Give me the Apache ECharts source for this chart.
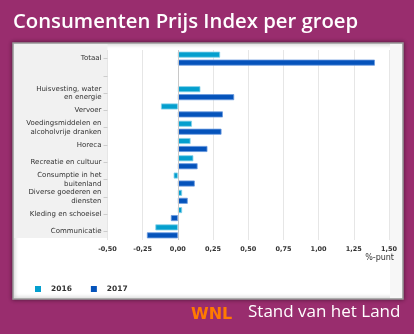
<!DOCTYPE html>
<html><head><meta charset="utf-8">
<script src="https://cdn.jsdelivr.net/npm/echarts@6/dist/echarts.min.js"></script>
<style>html,body{margin:0;padding:0;background:#992d6e}#c{width:414px;height:334px}</style>
</head><body><div id="c"></div>
<script>
var categories = ['Totaal', '', 'Huisvesting, water\nen energie', 'Vervoer', 'Voedingsmiddelen en\nalcoholvrije dranken', 'Horeca', 'Recreatie en cultuur', 'Consumptie in het\nbuitenland', 'Diverse goederen en\ndiensten', 'Kleding en schoeisel', 'Communicatie'];
var values2016 = [0.30, null, 0.16, -0.12, 0.10, 0.09, 0.11, -0.03, 0.03, 0.03, -0.16];
var values2017 = [1.40, null, 0.40, 0.32, 0.31, 0.21, 0.14, 0.12, 0.07, -0.05, -0.22];
var seriesNames = ['2016', '2017'];
var titleText = 'Consumenten Prijs Index per groep';
var axisUnit = '%-punt';

var chart = echarts.init(document.getElementById('c'), null, {renderer: 'canvas'});
chart.setOption({
  backgroundColor: '#992d6e',
  animation: false,
  graphic: [
    {type: 'rect', z: -10, shape: {x: 13, y: 43, width: 390, height: 256},
     style: {fill: '#ffffff', stroke: '#9a9a9a', lineWidth: 1.5, shadowBlur: 4, shadowColor: 'rgba(0,0,0,0.45)'}},
    {type: 'rect', z: -9, shape: {x: 14, y: 44, width: 93.5, height: 194}, style: {fill: '#f1f1f1'}},
    {type: 'rect', z: -9, shape: {x: 390, y: 44, width: 12, height: 254}, style: {fill: '#f7f7f7'}},
    {type: 'text', left: 13, top: 12, style: {text: titleText, fill: '#ffffff', font: '600 20.3px "Open Sans"'}},
    {type: 'text', right: 20, top: 254, style: {text: axisUnit, fill: '#333333', font: '8px "DejaVu Sans"'}},
    {type: 'text', left: 191, top: 307, style: {text: 'WNL', fill: '#ff7a00', font: 'bold 16px "DejaVu Sans"'}},
    {type: 'text', left: 248, top: 304, style: {text: 'Stand van het Land', fill: '#ffffff', font: '17px "Open Sans"'}}
  ],
  grid: {left: 107.5, right: 25, top: 50, bottom: 94, containLabel: false},
  legend: {
    left: 30, top: 280, itemWidth: 6, itemHeight: 6, itemGap: 19, icon: 'rect',
    itemStyle: {borderWidth: 0},
    textStyle: {fontFamily: 'DejaVu Sans', fontSize: 7.5, fontWeight: 'bold', color: '#333', padding: [0, 0, 0, 5]},
    data: seriesNames
  },
  xAxis: {
    type: 'value', min: -0.5, max: 1.5, interval: 0.25,
    axisLine: {show: false}, axisTick: {show: false},
    splitLine: {lineStyle: {color: '#e6e6e6', width: 1}},
    axisLabel: {margin: 6, fontFamily: 'DejaVu Sans', fontSize: 6.5, fontWeight: 'bold', color: '#333',
      formatter: function (v) { return v.toFixed(2).replace('.', ','); }}
  },
  yAxis: {
    type: 'category', inverse: true, data: categories,
    axisLine: {show: false, onZero: false},
    axisTick: {show: true, alignWithLabel: true, length: 4, lineStyle: {color: '#cccccc'}},
    axisLabel: {margin: 6, fontFamily: 'DejaVu Sans', fontSize: 7, color: '#333', lineHeight: 8.5}
  },
  series: [
    {name: seriesNames[0], type: 'bar', data: values2016, barWidth: 6, barGap: '33%',
     itemStyle: {color: '#049fce', borderColor: '#86d2ea', borderWidth: 0.8},
     markLine: {silent: true, symbol: 'none', label: {show: false}, lineStyle: {color: '#c8c8c8', type: 'solid', width: 1}, data: [{xAxis: 0}]}},
    {name: seriesNames[1], type: 'bar', data: values2017, barWidth: 6,
     itemStyle: {color: '#0553bb', borderColor: '#6b9be0', borderWidth: 0.8}}
  ]
});
</script></body></html>
